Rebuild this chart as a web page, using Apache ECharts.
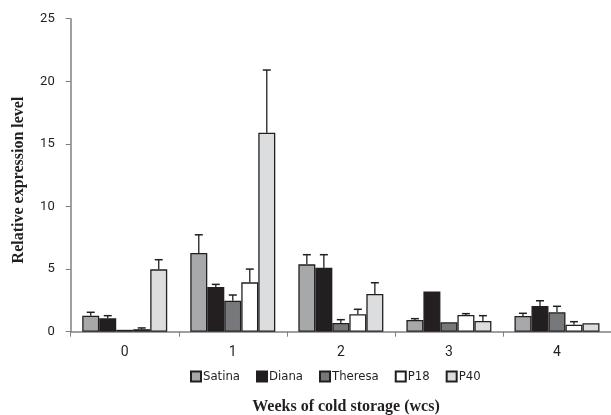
<!DOCTYPE html>
<html><head><meta charset="utf-8">
<script src="https://cdn.jsdelivr.net/npm/echarts@6/dist/echarts.min.js"></script>
<style>html,body{margin:0;padding:0;background:#fff}#c{width:611px;height:415px}</style>
</head><body><div id="c"></div>
<script>
const categories = ['0','1','2','3','4'];
const seriesNames = ['Satina','Diana','Theresa','P18','P40'];
const satina  = [1.28, 6.28, 5.38, 0.93, 1.25];
const diana   = [1.07, 3.57, 5.11, 3.22, 2.05];
const theresa = [0.15, 2.47, 0.69, 0.75, 1.55];
const p18     = [0.2, 3.94, 1.39, 1.33, 0.56];
const p40     = [4.98, 15.9, 3.01, 0.85, 0.67];
const satinaErr  = [1.55, 7.74, 6.15, 1.04, 1.47];
const dianaErr   = [1.28, 3.78, 6.15, 3.25, 2.47];
const theresaErr = [0.17, 2.93, 0.96, 0.75, 2.03];
const p18Err     = [0.3, 5.0, 1.79, 1.44, 0.8];
const p40Err     = [5.75, 20.9, 3.91, 1.28, 0.67];
const yTicks = [0,5,10,15,20,25];

const values = [satina, diana, theresa, p18, p40];
const errs = [satinaErr, dianaErr, theresaErr, p18Err, p40Err];
const colors = ['#a7a8aa','#231f20','#77787b','#ffffff','#dcdddf'];
const BW = 17;
const sansNarrow = '"Liberation Sans Narrow", "DejaVu Sans Condensed", "Noto Sans", sans-serif';

const chart = echarts.init(document.getElementById('c'));
const series = [];
values.forEach((v,i)=>{
  series.push({
    name: seriesNames[i], type:'bar', data:v, barWidth:BW, barGap:'0%',
    itemStyle:{color:colors[i], borderColor:'#231f20', borderWidth:1.3},
    z:2
  });
});
values.forEach((v,i)=>{
  series.push({
    type:'custom', silent:true, z:3,
    data: v.map((val,k)=>[k,val,errs[i][k]]),
    renderItem:(params, api)=>{
      const base = api.coord([api.value(0), api.value(1)]);
      const top = api.coord([api.value(0), api.value(2)]);
      const x = base[0] + (i-2)*BW;
      if (Math.abs(top[1]-base[1]) < 0.5) return null;
      return {type:'group', children:[
        {type:'line', shape:{x1:x,y1:base[1],x2:x,y2:top[1]}, style:{stroke:'#231f20',lineWidth:1.3}},
        {type:'line', shape:{x1:x-4,y1:top[1],x2:x+4,y2:top[1]}, style:{stroke:'#231f20',lineWidth:1.5}}
      ]};
    }
  });
});

chart.setOption({
  animation:false,
  backgroundColor:'#fff',
  grid:{left:70.7, top:18.7, bottom:83.3, width:551.5, containLabel:false},
  xAxis:{type:'category', data:categories,
    axisLine:{lineStyle:{color:'#808080', width:1.5}},
    axisTick:{show:true, length:5, lineStyle:{color:'#808080'}},
    axisLabel:{color:'#231f20', fontSize:14, fontFamily:'Roboto', margin:14}
  },
  yAxis:{type:'value', min:0, max:25, interval:5,
    axisLine:{show:true, lineStyle:{color:'#808080', width:1.5}},
    axisTick:{show:true, length:5, lineStyle:{color:'#808080'}},
    splitLine:{show:false},
    axisLabel:{color:'#231f20', fontSize:13, fontFamily:'Roboto', margin:16,
      formatter:(v)=> yTicks.includes(v) ? String(v) : ''}
  },
  legend:{data:seriesNames, left:185, top:365, icon:'rect', itemWidth:10, itemHeight:10, itemGap:16,
    textStyle:{color:'#231f20', fontSize:13, fontFamily:sansNarrow, padding:[0,0,0,-3]}},
  graphic:[
    {type:'text', position:[346,407], style:{text:'Weeks of cold storage (wcs)', font:'bold 16px "Liberation Serif"', fill:'#231f20', textAlign:'center', textVerticalAlign:'middle'}},
    {type:'text', rotation:Math.PI/2, position:[19,180], style:{text:'Relative expression level', font:'bold 16px "Liberation Serif"', fill:'#231f20', textAlign:'center', textVerticalAlign:'middle'}}
  ],
  series
});
</script></body></html>
